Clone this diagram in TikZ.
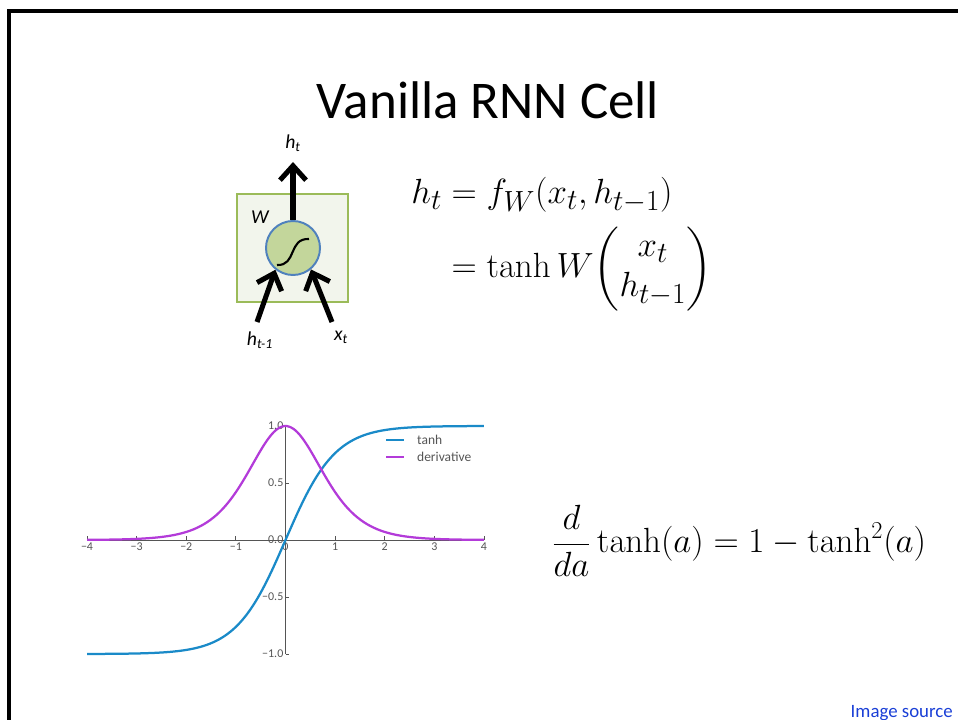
\documentclass[tikz,border=0pt]{standalone}
\usepackage{amsmath}
\usepackage[no-math]{fontspec}
\setmainfont{Carlito}
\usetikzlibrary{arrows.meta}
\definecolor{cellg}{HTML}{9BBB59}
\definecolor{cellbg}{HTML}{F2F5EC}
\definecolor{nodeg}{HTML}{C3D69B}
\definecolor{nodeb}{HTML}{4F81BD}
\definecolor{tanhc}{HTML}{1A8AC8}
\definecolor{derivc}{HTML}{B33BD9}
\definecolor{axc}{HTML}{555555}
\definecolor{linkc}{HTML}{1A3FD6}
\tikzset{
  fl/.style={-{Straight Barb[length=3.6mm,width=6.5mm]},line width=3.6pt},
  lbl/.style={font=\fontsize{14}{16}\selectfont\itshape,inner sep=0pt},
  tk/.style={font=\fontsize{8.5}{10}\selectfont,text=axc,inner sep=1pt},
  crv/.style={line width=1.6pt},
  eq/.style={font=\fontsize{27.5}{31}\selectfont,inner sep=0pt}
}

\begin{document}
\begin{tikzpicture}[x=0.025cm,y=-0.025cm]
\useasboundingbox (0,0) rectangle (958,720);
\draw[line width=2.2pt] (9,730) -- (9,11) -- (970,11);
\node (title) at (488,100) {\fontsize{37.7}{45}\selectfont Vanilla RNN Cell};

\node[draw=cellg,line width=2pt,fill=cellbg,minimum width=2.775cm,minimum height=2.7cm] (wbox) at (292.5,248) {};
\node[circle,draw=nodeb,line width=1.4pt,fill=nodeg,minimum size=1.35cm] (cell) at (293,248) {};
\draw[line width=1.5pt] (277,265) .. controls (297,266) and (288,238) .. (309,239);
\coordinate (hout) at (293,162);
\coordinate (hin) at (257,322);
\coordinate (xin) at (332,322);
\draw[fl] (cell) -- (hout);
\draw[fl] (hin) -- (cell.231);
\draw[fl] (xin) -- (cell.310);
\node[lbl] (ht) at (293,143) {h\textsubscript{t}};
\node[lbl] (wl) at (260,217) {W};
\node[lbl] (htm) at (260,340) {h\textsubscript{t-1}};
\node[lbl] (xt) at (341,337) {x\textsubscript{t}};

\node[eq,anchor=west] (eq1) at (411,242) {\renewcommand{\arraystretch}{0.92}$\begin{aligned} h_t &= f_W(x_t,h_{t-1})\\[3pt] &= \tanh W\!\begin{pmatrix}x_t\\ h_{t-1}\end{pmatrix}\end{aligned}$};
\node[eq,font=\fontsize{25}{30}\selectfont] (eq2) at (739,541) {$\dfrac{d}{da}\tanh(a)=1-\tanh^2(a)$};

\begin{scope}[shift={(285.5,540)},x=1.24cm,y=2.85cm]
\draw[axc,line width=0.6pt] (-4,0) -- (4,0);
\draw[axc,line width=0.6pt] (0,-1) -- (0,1);
\foreach \i/\t in {-4/{−4},-3/{−3},-2/{−2},-1/{−1},0/0,1/1,2/2,3/3,4/4}{
  \draw[axc,line width=0.6pt] (\i,0) -- (\i,0.035);
  \node[tk,anchor=north] (xl\i) at (\i,-0.01) {\t};
}
\foreach \v/\t [count=\k] in {1/1.0,0.5/0.5,0/0.0,-0.5/{−0.5},-1/{−1.0}}{
  \draw[axc,line width=0.6pt] (0,\v) -- (0.07,\v);
  \node[tk,anchor=east] (yl\k) at (-0.01,\v) {\t};
}
\draw[tanhc,crv] plot[domain=-4:4,samples=120,smooth] (\x,{tanh(\x)});
\draw[derivc,crv] plot[domain=-4:4,samples=120,smooth] (\x,{1-tanh(\x)^2});
\draw[tanhc,crv] (2.03,0.877) -- (2.39,0.877);
\draw[derivc,crv] (2.03,0.728) -- (2.39,0.728);
\node[tk,anchor=west,font=\fontsize{9.6}{11}\selectfont] (lg1) at (2.62,0.877) {tanh};
\node[tk,anchor=west,font=\fontsize{9.6}{11}\selectfont] (lg2) at (2.62,0.728) {derivative};
\end{scope}

\node[anchor=base east,text=linkc,font=\fontsize{13.4}{15}\selectfont,inner sep=0pt] (src) at (953,717) {Image source};
\end{tikzpicture}
\end{document}
